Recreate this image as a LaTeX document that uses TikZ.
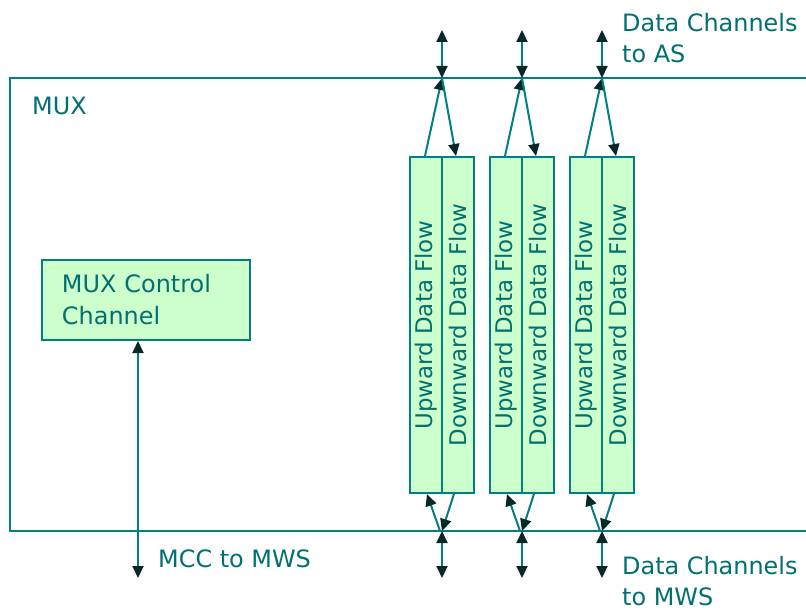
\documentclass[tikz,border=0pt]{standalone}
\usepackage{fontspec}
\setmainfont{DejaVu Sans}
\usetikzlibrary{arrows.meta}

\definecolor{lineteal}{HTML}{008080}
\definecolor{textteal}{HTML}{007070}
\definecolor{cellgreen}{HTML}{CCFFCC}
\definecolor{tipdark}{HTML}{082828}

\tikzset{
  frame/.style={draw=lineteal, line width=2.4bp},
  cell/.style={draw=lineteal, fill=cellgreen, line width=2bp,
    minimum width=32bp, minimum height=336bp, inner sep=0pt},
  ctrlbox/.style={draw=lineteal, fill=cellgreen, line width=2bp,
    minimum width=208bp, minimum height=80bp, text width=168bp,
    align=left, inner xsep=20bp, inner ysep=0pt, text=textteal,
    font=\fontsize{24}{32}\selectfont},
  flowtext/.style={rotate=90, text=textteal, inner sep=0pt,
    font=\fontsize{23}{28}\selectfont},
  lbl/.style={text=textteal, inner sep=0pt, align=left,
    font=\fontsize{24}{31}\selectfont},
  flow/.style={draw=lineteal, line width=2bp, -{Triangle[length=12bp, width=11bp, color=tipdark]}},
  both/.style={draw=lineteal, line width=2bp,
    {Triangle[length=12bp, width=11bp, color=tipdark]}-{Triangle[length=12bp, width=11bp, color=tipdark]}}
}

\begin{document}
\begin{tikzpicture}[x=1bp, y=-1bp]
  \useasboundingbox (0,0) rectangle (806,613);
  \fill[white] (0,0) rectangle (806,613);

  % MUX enclosure (open to the right)
  \draw[frame] (806,78) -- (10,78) -- (10,531) -- (806,531);
  \node[lbl, anchor=base west] (mux) at (32,115) {MUX};

  % control channel
  \node[ctrlbox] (ctrl) at (146,300) {MUX Control\\Channel};
  \coordinate (mccend) at (138,578);
  \draw[both] (ctrl.south -| mccend) -- (mccend);
  \node[lbl, anchor=base west] (mcc) at (158,567) {MCC to MWS};

  % data channel pairs
  \foreach \i/\x in {1/442, 2/522, 3/602} {
    \node[cell] (up\i) at (\x-16,325) {};
    \node[cell] (dn\i) at (\x+16,325) {};
    \node[flowtext] at (up\i) {Upward Data Flow};
    \node[flowtext] at (dn\i) {Downward Data Flow};
    \coordinate (top\i) at (\x,78);
    \coordinate (bot\i) at (\x,531);
    \coordinate (as\i) at (\x,30);
    \coordinate (mws\i) at (\x,578);
    % upper side
    \draw[both] (as\i) -- (top\i);
    \draw[flow] ([xshift=-1bp]up\i.north) -- (top\i);
    \draw[flow] (top\i) -- ([xshift=-2bp]dn\i.north);
    % lower side
    \draw[flow] ([xshift=-2bp]bot\i) -- ([xshift=1bp]up\i.south);
    \draw[flow] ([xshift=-4bp]dn\i.south) -- (bot\i);
    \draw[both] (bot\i) -- (mws\i);
  }

  \node[lbl, anchor=north west] (toas) at (622,13) {Data Channels\\to AS};
  \node[lbl, anchor=north west] (tomws) at (622,556) {Data Channels\\to MWS};
\end{tikzpicture}
\end{document}
